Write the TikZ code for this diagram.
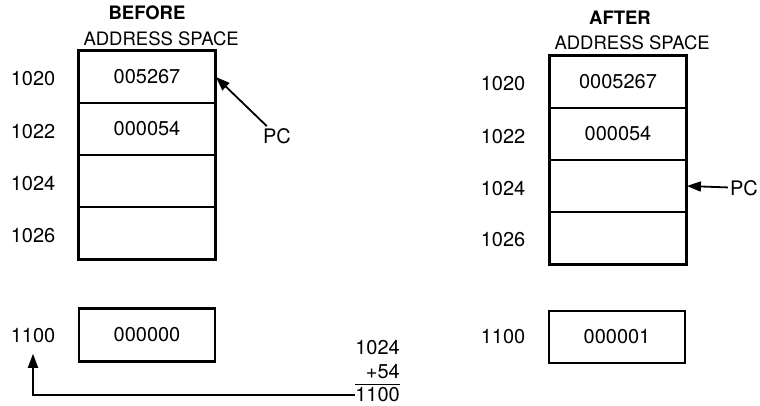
\documentclass[tikz,border=0pt]{standalone}
\usepackage{fontspec}
\setmainfont{TeX Gyre Heros}
\usetikzlibrary{positioning, arrows.meta}

\begin{document}
\begin{tikzpicture}[x=1pt, y=-1pt,
    every node/.style={font=\fontsize{20}{24}\selectfont},
    cell/.style={draw, line width=1.8pt, minimum width=136pt, minimum height=52pt, inner sep=0pt},
    frame/.style={draw, line width=2.8pt},
    title/.style={font=\fontsize{18.5}{22}\selectfont\bfseries},
    head/.style={font=\fontsize{18.5}{22}\selectfont},
    ptr/.style={-{Triangle[length=14pt, width=10pt]}, line width=1.8pt}]
        \useasboundingbox (0,0) rectangle (760,406);
        % before
        \node[title] (beforeT) at (147,13) {BEFORE};
        \node[head, anchor=west] (beforeA) at (80,39) {ADDRESS SPACE};
        \node[cell] (b1020) at (147,77) {005267};
        \node[cell] (b1022) at (147,129) {000054};
        \node[cell] (b1024) at (147,181) {};
        \node[cell] (b1026) at (147,233) {};
        \draw[frame] (b1020.north west) rectangle (b1026.south east);
        \node (lb1020) at (33,79) {1020};
        \node (lb1022) at (33,132) {1022};
        \node (lb1024) at (33,184) {1024};
        \node (lb1026) at (33,236) {1026};
        \node[inner sep=2pt] (pcBefore) at (277,136) {PC};
        \draw[ptr] (pcBefore) -- (b1020.east);
        \node[cell, line width=2.8pt, minimum height=53pt] (b1100) at (147,335) {000000};
        \node (lb1100) at (33,336) {1100};
        \node[anchor=east, inner sep=0pt] (sumA) at (400,348) {1024};
        \node[anchor=east, inner sep=0pt] (sumB) at (400,372) {+54};
        \node[anchor=east, inner sep=0pt] (sumC) at (400,395) {1100};
        \draw[line width=1.4pt] ([yshift=3pt]sumC.north west) -- ([yshift=3pt]sumC.north east);
        \draw[ptr] (sumC.west) -| ([yshift=-7pt]lb1100.south);
        % after
        \node[title] (afterT) at (620,18) {AFTER};
        \node[head, anchor=west] (afterA) at (551,43) {ADDRESS SPACE};
        \node[cell] (a1020) at (618,82) {0005267};
        \node[cell] (a1022) at (618,134) {000054};
        \node[cell] (a1024) at (618,186) {};
        \node[cell] (a1026) at (618,238) {};
        \draw[frame] (a1020.north west) rectangle (a1026.south east);
        \node (la1020) at (503,84) {1020};
        \node (la1022) at (503,137) {1022};
        \node (la1024) at (503,189) {1024};
        \node (la1026) at (503,240) {1026};
        \node[inner sep=2pt] (pcAfter) at (744,188) {PC};
        \draw[ptr] (pcAfter) -- (a1024.east);
        \node[cell, line width=2.8pt, minimum height=52pt] (a1100) at (617,337) {000001};
        \node (la1100) at (503,337) {1100};
\end{tikzpicture}
\end{document}
